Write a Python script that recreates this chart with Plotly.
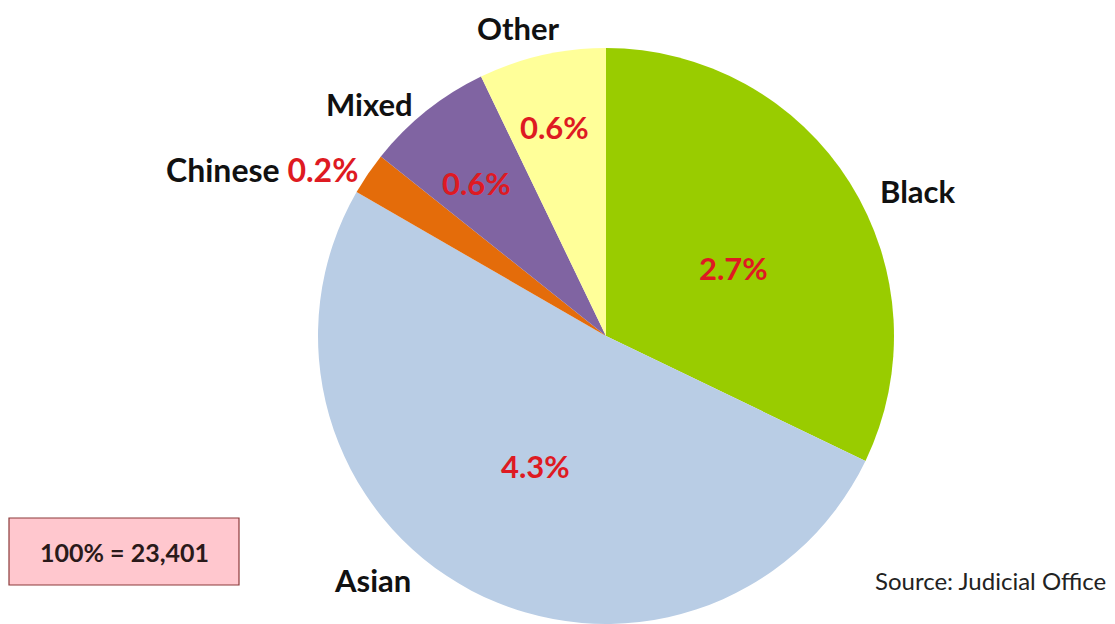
import plotly.graph_objects as go

categories = ["Black", "Asian", "Chinese", "Mixed", "Other"]
values = [2.7, 4.3, 0.2, 0.6, 0.6]
colors = ["#99CC00", "#B9CDE5", "#E46C0A", "#8064A2", "#FFFF99"]
total_note = "100% = 23,401"
source_note = "Source: Judicial Office"

W, H = 1115, 624
RED = "#DE1A22"
FONT = "Lato"
LBL = 31

fig = go.Figure()
fig.add_trace(go.Pie(
    labels=categories,
    values=values,
    marker=dict(colors=colors, line=dict(width=0)),
    sort=False,
    direction="clockwise",
    rotation=0,
    textinfo="none",
    hoverinfo="label+value",
    showlegend=False,
    domain=dict(x=[318 / W, 894 / W], y=[0, 1 - 48 / H]),
))

def px(x):
    return x / W

def py(y):
    return 1 - y / H

vals = {c: f"{v}%" for c, v in zip(categories, values)}

# category labels (outside)
label_pos = {
    "Other": (518, 28),
    "Mixed": (369, 104),
    "Black": (918, 191),
    "Asian": (372, 580),
}
annotations = []
for c, (x, y) in label_pos.items():
    annotations.append(dict(x=px(x), y=py(y), xref="paper", yref="paper",
                            text=f"<b>{c}</b>", showarrow=False,
                            font=dict(family=FONT, size=LBL, color="#111111"),
                            xanchor="center", yanchor="middle"))

# Chinese label with its value outside
annotations.append(dict(x=px(164), y=py(170), xref="paper", yref="paper",
                        text=f"<b>{categories[2]} <span style='color:{RED}'>{vals['Chinese']}</span></b>",
                        showarrow=False, font=dict(family=FONT, size=32, color="#111111"),
                        xanchor="left", yanchor="middle"))

# value labels inside
value_pos = {
    "Black": (733, 268),
    "Asian": (535, 466),
    "Mixed": (476, 183),
    "Other": (554, 127),
}
for c, (x, y) in value_pos.items():
    annotations.append(dict(x=px(x), y=py(y), xref="paper", yref="paper",
                            text=f"<b>{vals[c]}</b>", showarrow=False,
                            font=dict(family=FONT, size=LBL, color=RED),
                            xanchor="center", yanchor="middle"))

# total box
annotations.append(dict(x=px(124), y=py(552), xref="paper", yref="paper",
                        text=f"<b>{total_note}</b>", showarrow=False,
                        font=dict(family=FONT, size=25, color="#2a1a1a"),
                        xanchor="center", yanchor="middle"))
# source
annotations.append(dict(x=px(1108), y=py(580), xref="paper", yref="paper",
                        text=source_note, showarrow=False,
                        font=dict(family=FONT, size=24, color="#222222"),
                        xanchor="right", yanchor="middle"))

fig.update_layout(
    width=W, height=H,
    margin=dict(l=0, r=0, t=0, b=0),
    paper_bgcolor="white",
    plot_bgcolor="white",
    annotations=annotations,
    shapes=[dict(type="rect", xref="paper", yref="paper",
                 x0=px(9), x1=px(239), y0=py(585), y1=py(518),
                 fillcolor="#FFC7CE", line=dict(color="#8B3A3A", width=1.2),
                 layer="below")],
)

fig.write_html("out.html", config={"displayModeBar": False},
               post_script="document.body.style.margin='0';document.body.style.overflow='hidden';")
